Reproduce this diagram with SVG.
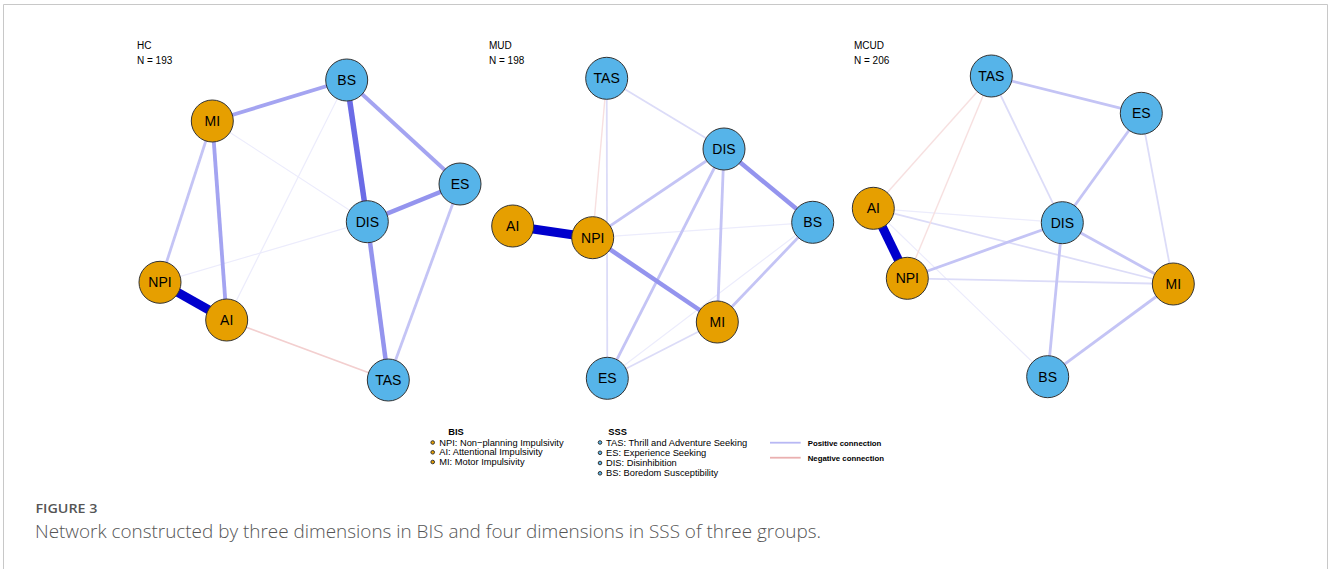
<svg xmlns="http://www.w3.org/2000/svg" width="1328" height="569" viewBox="0 0 1328 569">
<style>
.frame{stroke:#c8c8c8;stroke-width:1;fill:none}
.e{fill:none;stroke-linecap:butt}
.p1{stroke:#ececfc;stroke-width:1.2}
.p2{stroke:#dcdcf8;stroke-width:1.8}
.p3{stroke:#c4c4f5;stroke-width:2.8}
.p4{stroke:#a4a4f1;stroke-width:3.8}
.p5{stroke:#9494ee;stroke-width:4.5}
.p6{stroke:#6b6be6;stroke-width:5.5}
.p7{stroke:#0000cd;stroke-width:9}
.n1{stroke:#f3cfcf;stroke-width:1.8}
.n0{stroke:#f7e0e0;stroke-width:1.4}
.bis{fill:#E69F00;stroke:#333;stroke-width:1}
.sss{fill:#56B4E9;stroke:#333;stroke-width:1}
.nl{font-family:"Liberation Sans",Arial,sans-serif;font-size:14px;fill:#000;text-anchor:middle;dominant-baseline:central}
.gl{font-family:"Liberation Sans",Arial,sans-serif;font-size:10px;fill:#000}
.lg{font-family:"Liberation Sans",Arial,sans-serif;font-size:9.3px;fill:#000}
.lh{font-family:"Liberation Sans",Arial,sans-serif;font-size:9.3px;font-weight:bold;fill:#000}
.lc{font-family:"Liberation Sans",Arial,sans-serif;font-size:7.8px;font-weight:bold;fill:#000}
.cap1{font-family:"Open Sans",sans-serif;font-size:12.5px;font-weight:600;fill:#555}
.cap2{font-family:"Open Sans",sans-serif;font-size:17.5px;font-weight:300;fill:#555}
</style>
<path class="frame" d="M3.5 569 V4.5 H1327.5 V569"/>

<g id="connectors">
<!-- HC -->
<line class="e p1" x1="346.7" y1="80" x2="226.7" y2="320"/>
<line class="e p1" x1="212.3" y1="121" x2="367.3" y2="221.7"/>
<line class="e p1" x1="160" y1="282.3" x2="367.3" y2="221.7"/>
<line class="e n1" x1="226.7" y1="320" x2="388.3" y2="380"/>
<line class="e p3" x1="212.3" y1="121" x2="160" y2="282.3"/>
<line class="e p3" x1="460" y1="184" x2="388.3" y2="380"/>
<line class="e p4" x1="346.7" y1="80" x2="212.3" y2="121"/>
<line class="e p4" x1="346.7" y1="80" x2="460" y2="184"/>
<line class="e p4" x1="212.3" y1="121" x2="226.7" y2="320"/>
<line class="e p5" x1="367.3" y1="221.7" x2="388.3" y2="380"/>
<line class="e p5" x1="367.3" y1="221.7" x2="460" y2="184"/>
<line class="e p6" x1="346.7" y1="80" x2="367.3" y2="221.7"/>
<line class="e p7" x1="160" y1="282.3" x2="226.7" y2="320"/>
<!-- MUD -->
<line class="e p1" x1="592.7" y1="237.7" x2="812.7" y2="222.3"/>
<line class="e p1" x1="812.7" y1="222.3" x2="607.3" y2="378.3"/>
<line class="e p2" x1="717.3" y1="322" x2="607.3" y2="378.3"/>
<line class="e p2" x1="606.7" y1="78.3" x2="607.3" y2="378.3"/>
<line class="e n0" x1="606.7" y1="78.3" x2="592.7" y2="237.7"/>
<line class="e p2" x1="606.7" y1="78.3" x2="724" y2="149"/>
<line class="e p3" x1="724" y1="149" x2="607.3" y2="378.3"/>
<line class="e p3" x1="724" y1="149" x2="717.3" y2="322"/>
<line class="e p3" x1="724" y1="149" x2="592.7" y2="237.7"/>
<line class="e p3" x1="812.7" y1="222.3" x2="717.3" y2="322"/>
<line class="e p5" x1="724" y1="149" x2="812.7" y2="222.3"/>
<line class="e p5" x1="592.7" y1="237.7" x2="717.3" y2="322"/>
<line class="e p7" x1="512.7" y1="226" x2="592.7" y2="237.7"/>
<!-- MCUD -->
<line class="e p1" x1="873.3" y1="208.3" x2="1062.3" y2="222.7"/>
<line class="e p1" x1="873.3" y1="208.3" x2="1047.7" y2="376.7"/>
<line class="e p2" x1="873.3" y1="208.3" x2="1173.3" y2="284"/>
<line class="e n0" x1="991.3" y1="76" x2="873.3" y2="208.3"/>
<line class="e n0" x1="991.3" y1="76" x2="907.3" y2="278.3"/>
<line class="e p2" x1="991.3" y1="76" x2="1062.3" y2="222.7"/>
<line class="e p2" x1="1141.3" y1="113.3" x2="1173.3" y2="284"/>
<line class="e p2" x1="907.3" y1="278.3" x2="1173.3" y2="284"/>
<line class="e p3" x1="1062.3" y1="222.7" x2="1047.7" y2="376.7"/>
<line class="e p3" x1="1173.3" y1="284" x2="1047.7" y2="376.7"/>
<line class="e p3" x1="907.3" y1="278.3" x2="1062.3" y2="222.7"/>
<line class="e p3" x1="1141.3" y1="113.3" x2="1062.3" y2="222.7"/>
<line class="e p3" x1="1062.3" y1="222.7" x2="1173.3" y2="284"/>
<line class="e p3" x1="991.3" y1="76" x2="1141.3" y2="113.3"/>
<line class="e p7" x1="873.3" y1="208.3" x2="907.3" y2="278.3"/>
</g>

<g id="hc-title"><text class="gl" x="137" y="49">HC</text><text class="gl" x="137" y="64">N = 193</text></g>
<g id="mud-title"><text class="gl" x="489" y="49">MUD</text><text class="gl" x="489" y="64">N = 198</text></g>
<g id="mcud-title"><text class="gl" x="854" y="49">MCUD</text><text class="gl" x="854" y="64">N = 206</text></g>

<g id="hc-BS"><circle class="sss" cx="346.7" cy="80" r="21"/><text class="nl" x="346.7" y="80">BS</text></g>
<g id="hc-MI"><circle class="bis" cx="212.3" cy="121" r="21"/><text class="nl" x="212.3" y="121">MI</text></g>
<g id="hc-ES"><circle class="sss" cx="460" cy="184" r="21"/><text class="nl" x="460" y="184">ES</text></g>
<g id="hc-DIS"><circle class="sss" cx="367.3" cy="221.7" r="21"/><text class="nl" x="367.3" y="221.7">DIS</text></g>
<g id="hc-NPI"><circle class="bis" cx="160" cy="282.3" r="21"/><text class="nl" x="160" y="282.3">NPI</text></g>
<g id="hc-AI"><circle class="bis" cx="226.7" cy="320" r="21"/><text class="nl" x="226.7" y="320">AI</text></g>
<g id="hc-TAS"><circle class="sss" cx="388.3" cy="380" r="21"/><text class="nl" x="388.3" y="380">TAS</text></g>

<g id="mud-TAS"><circle class="sss" cx="606.7" cy="78.3" r="21"/><text class="nl" x="606.7" y="78.3">TAS</text></g>
<g id="mud-DIS"><circle class="sss" cx="724" cy="149" r="21"/><text class="nl" x="724" y="149">DIS</text></g>
<g id="mud-BS"><circle class="sss" cx="812.7" cy="222.3" r="21"/><text class="nl" x="812.7" y="222.3">BS</text></g>
<g id="mud-AI"><circle class="bis" cx="512.7" cy="226" r="21"/><text class="nl" x="512.7" y="226">AI</text></g>
<g id="mud-NPI"><circle class="bis" cx="592.7" cy="237.7" r="21"/><text class="nl" x="592.7" y="237.7">NPI</text></g>
<g id="mud-MI"><circle class="bis" cx="717.3" cy="322" r="21"/><text class="nl" x="717.3" y="322">MI</text></g>
<g id="mud-ES"><circle class="sss" cx="607.3" cy="378.3" r="21"/><text class="nl" x="607.3" y="378.3">ES</text></g>

<g id="mcud-TAS"><circle class="sss" cx="991.3" cy="76" r="21"/><text class="nl" x="991.3" y="76">TAS</text></g>
<g id="mcud-ES"><circle class="sss" cx="1141.3" cy="113.3" r="21"/><text class="nl" x="1141.3" y="113.3">ES</text></g>
<g id="mcud-AI"><circle class="bis" cx="873.3" cy="208.3" r="21"/><text class="nl" x="873.3" y="208.3">AI</text></g>
<g id="mcud-DIS"><circle class="sss" cx="1062.3" cy="222.7" r="21"/><text class="nl" x="1062.3" y="222.7">DIS</text></g>
<g id="mcud-NPI"><circle class="bis" cx="907.3" cy="278.3" r="21"/><text class="nl" x="907.3" y="278.3">NPI</text></g>
<g id="mcud-MI"><circle class="bis" cx="1173.3" cy="284" r="21"/><text class="nl" x="1173.3" y="284">MI</text></g>
<g id="mcud-BS"><circle class="sss" cx="1047.7" cy="376.7" r="21"/><text class="nl" x="1047.7" y="376.7">BS</text></g>

<g id="legend">
<text class="lh" x="448.3" y="435">BIS</text>
<circle class="bis" cx="432.7" cy="442.5" r="1.8" stroke-width="0.6"/>
<circle class="bis" cx="432.7" cy="452.3" r="1.8" stroke-width="0.6"/>
<circle class="bis" cx="432.7" cy="462" r="1.8" stroke-width="0.6"/>
<text class="lg" x="439.3" y="445.5">NPI: Non−planning Impulsivity</text>
<text class="lg" x="439.3" y="455.3">AI: Attentional Impulsivity</text>
<text class="lg" x="439.3" y="465">MI: Motor Impulsivity</text>
<text class="lh" x="608.3" y="435">SSS</text>
<circle class="sss" cx="600" cy="442.5" r="1.8" stroke-width="0.6"/>
<circle class="sss" cx="600" cy="452.8" r="1.8" stroke-width="0.6"/>
<circle class="sss" cx="600" cy="463" r="1.8" stroke-width="0.6"/>
<circle class="sss" cx="600" cy="473.3" r="1.8" stroke-width="0.6"/>
<text class="lg" x="606" y="445.5">TAS: Thrill and Adventure Seeking</text>
<text class="lg" x="606" y="455.8">ES: Experience Seeking</text>
<text class="lg" x="606" y="466">DIS: Disinhibition</text>
<text class="lg" x="606" y="476.3">BS: Boredom Susceptibility</text>
<line x1="770" y1="442.7" x2="800.7" y2="442.7" stroke="#b8b8f4" stroke-width="1.8"/>
<line x1="770" y1="457.7" x2="800.7" y2="457.7" stroke="#eab0b0" stroke-width="1.8"/>
<text class="lc" x="807.7" y="445.5">Positive connection</text>
<text class="lc" x="807.7" y="460.5">Negative connection</text>
</g>

<g id="caption">
<text class="cap1" x="35.5" y="512.5" textLength="62" lengthAdjust="spacingAndGlyphs">FIGURE 3</text>
<text class="cap2" x="35" y="537.5" textLength="786" lengthAdjust="spacingAndGlyphs">Network constructed by three dimensions in BIS and four dimensions in SSS of three groups.</text>
</g>
</svg>
